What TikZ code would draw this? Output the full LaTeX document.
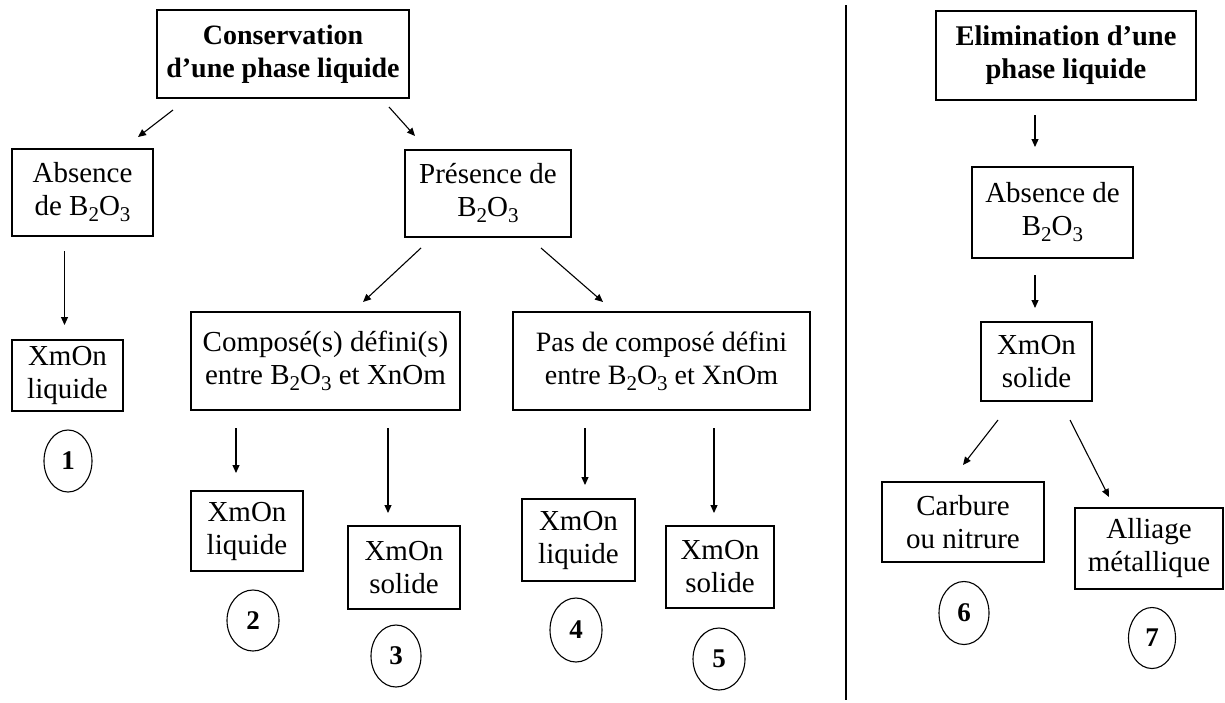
\documentclass[tikz,border=0pt]{standalone}
\usepackage{fontspec}
\setmainfont{Liberation Serif}
\usetikzlibrary{arrows.meta,shapes.geometric}
\newcommand\sbs[1]{\raisebox{-6pt}{\fontsize{21}{21}\selectfont #1}}
\newcommand\BO{B\sbs{2}O\sbs{3}}
\tikzset{
  boxnode/.style={draw, line width=1.2pt, inner sep=0pt, align=center,
    font=\fontsize{29}{33}\selectfont},
  smallboxnode/.style={boxnode, font=\fontsize{28}{33}\selectfont},
  titlenode/.style={boxnode, font=\fontsize{28}{33}\selectfont\bfseries},
  rtitlenode/.style={boxnode, font=\fontsize{28.5}{33}\selectfont\bfseries},
  numnode/.style={ellipse, draw, line width=1.1pt, inner sep=0pt,
    font=\fontsize{27}{30}\selectfont\bfseries},
  arr/.style={line width=1.1pt, -{Triangle[length=8pt,width=7pt]}},
}
\begin{document}
\begin{tikzpicture}[x=1pt,y=-1pt]
\useasboundingbox (0,0) rectangle (1225,702);
% left part
\node[titlenode, minimum width=252, minimum height=88] (t1) at (283,54) {Conservation\\d’une phase liquide};
\node[boxnode, minimum width=141, minimum height=87] (b1) at (82.5,192.5) {Absence\\de \BO};
\node[boxnode, minimum width=166, minimum height=87] (b2) at (488,193.5) {Présence de\\\BO};
\node[boxnode, minimum width=111, minimum height=71] (b3) at (67.5,375.5) {XmOn\\liquide};
\node[numnode, minimum width=48, minimum height=62] (c1) at (68,461) {1};
\node[boxnode, minimum width=269, minimum height=98] (b4) at (325.5,361) {Composé(s) défini(s)\\entre \BO{} et XnOm};
\node[smallboxnode, minimum width=297, minimum height=98] (b5) at (661.5,361) {Pas de composé défini\\entre \BO{} et XnOm};
\node[boxnode, minimum width=112, minimum height=80] (b6) at (247,531) {XmOn\\liquide};
\node[numnode, minimum width=52, minimum height=61] (c2) at (253,620.5) {2};
\node[boxnode, minimum width=112, minimum height=83] (b7) at (404,567.5) {XmOn\\solide};
\node[numnode, minimum width=50, minimum height=62] (c3) at (396,656) {3};
\node[boxnode, minimum width=113, minimum height=82] (b8) at (578.5,540) {XmOn\\liquide};
\node[numnode, minimum width=52, minimum height=64] (c4) at (576,630) {4};
\node[boxnode, minimum width=108, minimum height=82] (b9) at (720,567) {XmOn\\solide};
\node[numnode, minimum width=52, minimum height=62] (c5) at (719,659) {5};
% separator
\coordinate (sepA) at (846,5);
\coordinate (sepB) at (846,700);
\draw[line width=2.4pt] (sepA) -- (sepB);
% right part
\node[rtitlenode, minimum width=260, minimum height=89] (t2) at (1066,55.5) {Elimination d’une\\phase liquide};
\node[boxnode, minimum width=161, minimum height=91] (b10) at (1052.5,212.5) {Absence de\\\BO};
\node[boxnode, minimum width=111, minimum height=79] (b11) at (1036.5,361.5) {XmOn\\solide};
\node[boxnode, minimum width=162, minimum height=80] (b12) at (963,522) {Carbure\\ou nitrure};
\node[boxnode, minimum width=148, minimum height=81] (b13) at (1149,548.5) {Alliage\\métallique};
\node[numnode, minimum width=50, minimum height=63] (c6) at (964,613) {6};
\node[numnode, minimum width=47, minimum height=61] (c7) at (1152,638) {7};
% arrow end points
\coordinate (a1s) at (173,110);  \coordinate (a1e) at (138,137);
\coordinate (a2s) at (389,107);  \coordinate (a2e) at (415,136);
\coordinate (a3s) at (64.5,251); \coordinate (a3e) at (64.5,325);
\coordinate (a4s) at (421,248);  \coordinate (a4e) at (363,302);
\coordinate (a5s) at (541,248);  \coordinate (a5e) at (603,302);
\coordinate (a6s) at (236,428);  \coordinate (a6e) at (236,473);
\coordinate (a7s) at (388,428);  \coordinate (a7e) at (388,513);
\coordinate (a8s) at (585,428);  \coordinate (a8e) at (585,485);
\coordinate (a9s) at (714,428);  \coordinate (a9e) at (714,513);
\coordinate (a10s) at (1035,115); \coordinate (a10e) at (1035,147);
\coordinate (a11s) at (1035,275); \coordinate (a11e) at (1035,308);
\coordinate (a12s) at (998,420);  \coordinate (a12e) at (963,465);
\coordinate (a13s) at (1070,420); \coordinate (a13e) at (1109,497);
\foreach \i in {1,...,13} {\draw[arr] (a\i s) -- (a\i e);}
\end{tikzpicture}
\end{document}
